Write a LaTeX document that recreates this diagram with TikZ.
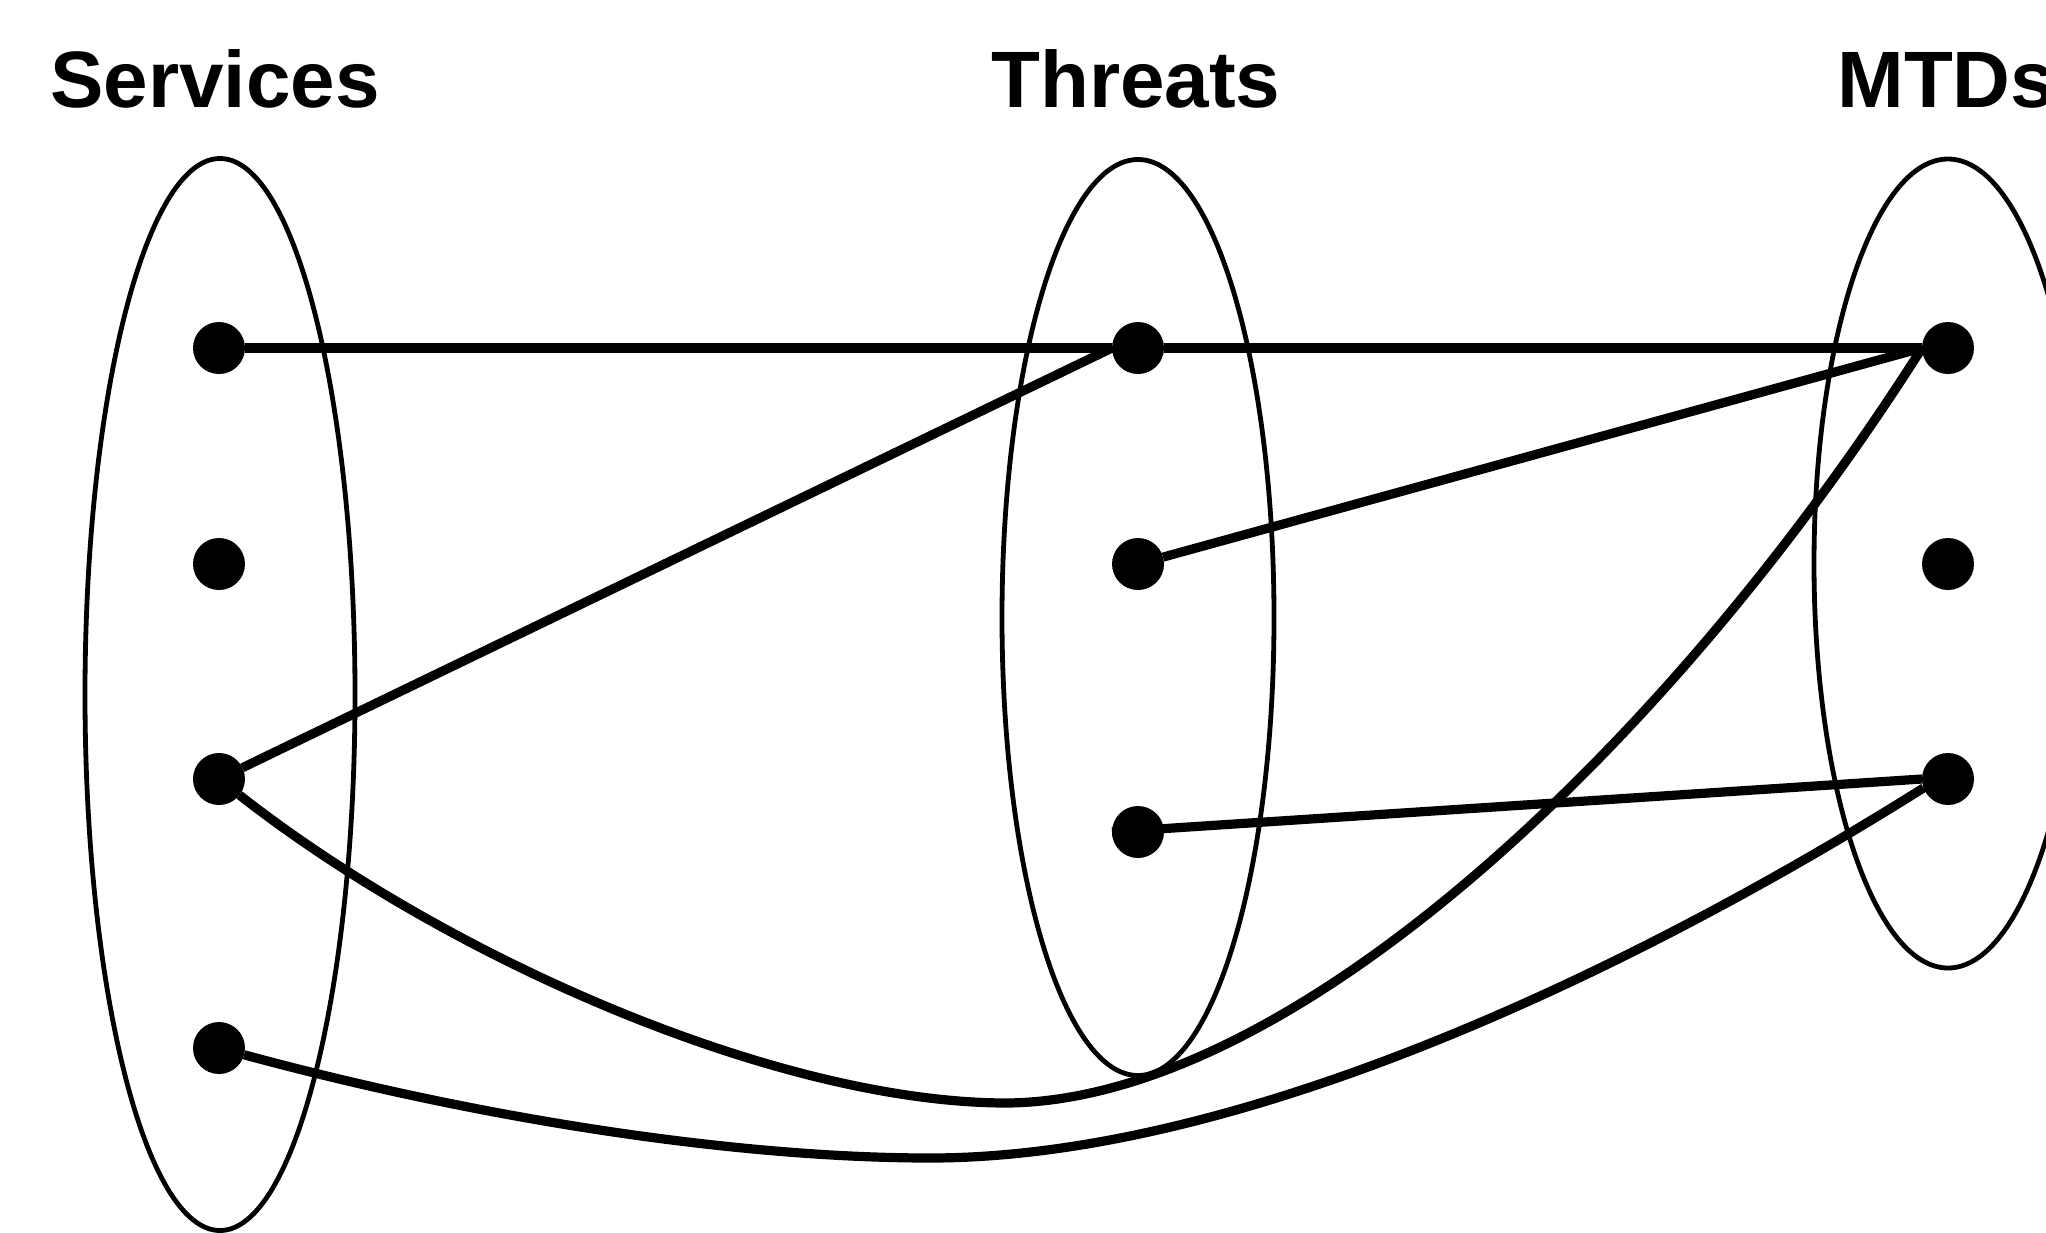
\documentclass[tikz,border=0pt]{standalone}
\usepackage{fontspec}
\setmainfont{Liberation Sans}
\usetikzlibrary{shapes.geometric}
\begin{document}
\begin{tikzpicture}[x=0.5pt,y=-0.5pt,
  setshape/.style={draw, ellipse, line width=2.4pt, inner sep=0pt, outer sep=0pt},
  dot/.style={circle, fill=black, draw=none, minimum size=26pt, inner sep=0pt, outer sep=0pt},
  conn/.style={line width=4.6pt, line join=round},
  title/.style={anchor=base west, inner sep=0pt, font=\fontsize{40}{48}\selectfont\bfseries}]
\useasboundingbox (0,0) rectangle (2046,1232);
% titles
\node[title] (lserv) at (50,107) {Services};
\node[title] (lthr) at (991,107) {Threats};
\node[title] (lmtd) at (1837,107) {MTDs};
% sets
\node[setshape, minimum width=135pt, minimum height=536pt] (eserv) at (220,694.5) {};
\node[setshape, minimum width=136pt, minimum height=458pt] (ethr) at (1138,617.5) {};
\node[setshape, minimum width=134pt, minimum height=404.5pt] (emtd) at (1948,563.5) {};
% elements
\node[dot] (s1) at (219,348) {};
\node[dot] (s2) at (219,564) {};
\node[dot] (s3) at (219,779) {};
\node[dot] (s4) at (219,1048) {};
\node[dot] (t1) at (1138,348) {};
\node[dot] (t2) at (1138,564) {};
\node[dot] (t3) at (1138,832) {};
\node[dot] (m1) at (1948,348) {};
\node[dot] (m2) at (1948,564) {};
\node[dot] (m3) at (1948,779) {};
\coordinate (b6) at (1007,1103);
\coordinate (b7) at (930,1158);
% connectors
\draw[conn] (s1) -- (t1.west);
\draw[conn] (s3) -- (t1.west);
\draw[conn] (t1) -- (m1.west);
\draw[conn] (t2) -- (m1.west);
\draw[conn] (t3.west) -- (m3.west);
\draw[conn] (s3) .. controls (450,960) and (780,1103) .. (b6)
                 .. controls (1300,1100) and (1680,730) .. (m1.west);
\draw[conn] (s4) .. controls (500,1124) and (750,1158) .. (b7)
                 .. controls (1250,1158) and (1650,960) .. (m3.200);
\end{tikzpicture}
\end{document}
